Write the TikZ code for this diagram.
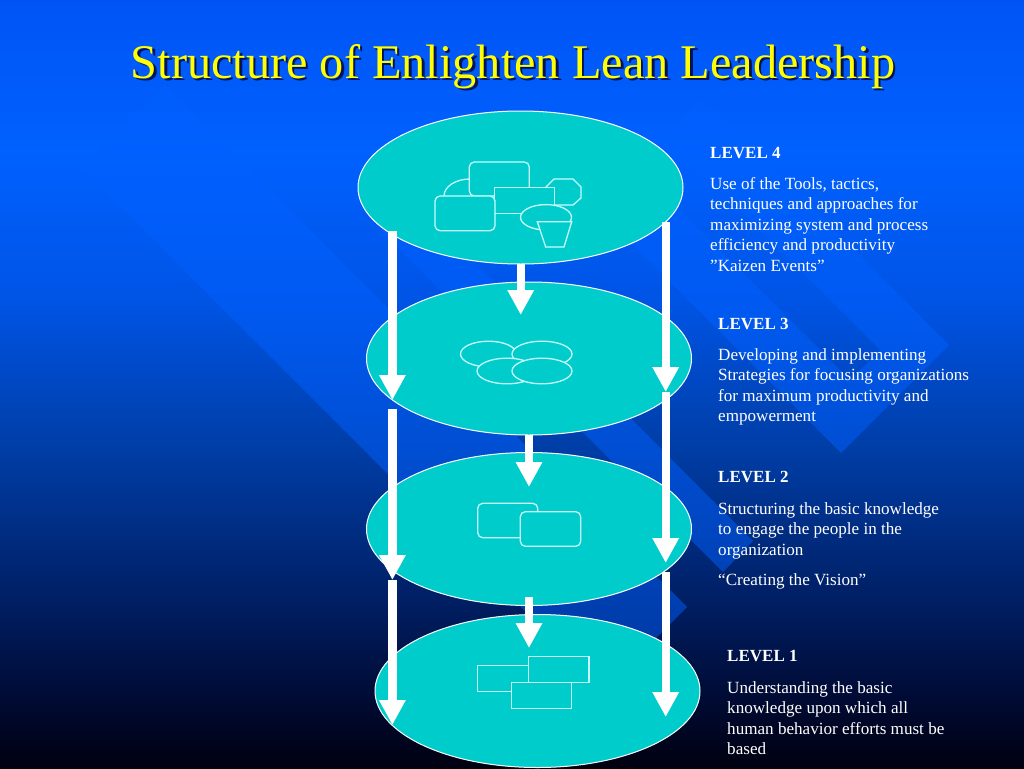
\documentclass[tikz,border=0pt]{standalone}
\usepackage{fontspec}
\setmainfont{Liberation Serif}
\usetikzlibrary{shapes,arrows.meta}
\definecolor{discteal}{RGB}{0,204,204}
\definecolor{iconline}{RGB}{200,252,252}
\definecolor{bandblue}{RGB}{0,96,255}
\definecolor{titleyellow}{RGB}{255,255,0}
\definecolor{titleshade}{RGB}{0,20,90}
\pgfdeclareverticalshading{slideback}{100bp}{
  rgb(0bp)=(0,0,0.06);
  rgb(25bp)=(0,0,0.06);
  rgb(29.4bp)=(0,0.04,0.2);
  rgb(35.9bp)=(0,0.12,0.39);
  rgb(45.7bp)=(0,0.24,0.65);
  rgb(55.5bp)=(0,0.33,0.9);
  rgb(65.2bp)=(0,0.38,1);
  rgb(75bp)=(0,0.33,0.96);
  rgb(100bp)=(0,0.33,0.96)}

\begin{document}
\begin{tikzpicture}[x=1pt,y=-1pt]
    \tikzstyle{band}=[fill=bandblue,opacity=0.5]
    \tikzstyle{level disc}=[ellipse,draw=white,line width=1pt,fill=discteal,minimum width=325pt,minimum height=153pt,inner sep=0pt]
    \tikzstyle{icon line}=[draw=iconline,line width=1.3pt,fill=discteal]
    \tikzstyle{round line}=[icon line,rounded corners=5pt]
    \tikzstyle{level arrow}=[draw=white,line width=8.3pt,-{Triangle[width=25pt,length=25pt]}]
    \tikzstyle{level line}=[anchor=base west,inner sep=0pt,text=white,font=\fontsize{17.1}{17}\selectfont]
    \tikzstyle{level head}=[level line,font=\fontsize{17}{17}\selectfont\bfseries]
    \tikzstyle{title text}=[anchor=base,inner sep=0pt,font=\fontsize{48.3}{48}\selectfont]

    % Draw the slide background and the diagonal bands
    \shade[shading=slideback] (0,0) rectangle (1024,768);
    \fill[band] (594,206) -- (841,453) -- (949,345) -- (702,98) -- (665,135) -- (880,350) -- (850,380) -- (635,165) -- cycle;
    \fill[band] (375,225) -- (723,572) -- (753,541) -- (406,193) -- cycle;
    \fill[band] (82,168) -- (604,690) -- (687,607) -- (165,85) -- cycle;

    % Draw the title
    \node[title text,text=titleshade] (title shadow) at (515.5,80.5) {Structure of Enlighten Lean Leadership};
    \node[title text,text=titleyellow] (title) at (513,78) {Structure of Enlighten Lean Leadership};

    % Draw the level discs
    \foreach \name / \x / \y in {4/520.5/187.5,3/529/358.5,2/529/529,1/537.5/691}
        \node[level disc] (L-\name) at (\x,\y) {};

    % Icons of level 4
    \draw[icon line] (470,196) ellipse [x radius=26,y radius=17];
    \draw[round line] (469.3,162) rectangle (529.3,196);
    \draw[icon line] (554,179) -- (573,179) -- (581,187) -- (581,198) -- (573,205) -- (554,205) -- (546,198) -- (546,187) -- cycle;
    \draw[icon line] (494.7,187.3) rectangle (554.3,213.3);
    \draw[round line] (435,196) rectangle (495,230.7);
    \draw[icon line] (546,217.3) ellipse [x radius=25.5,y radius=12.7];
    \draw[icon line] (537.3,221.7) -- (571.7,221.7) -- (564,247) -- (545.7,247) -- cycle;

    % Icons of level 3
    \foreach \x / \y / \r in {488.5/354/28,542/354/30,507/371/30,542/371/30}
        \draw[icon line] (\x,\y) ellipse [x radius=\r,y radius=12.8];

    % Icons of level 2
    \draw[round line] (477.7,503.3) rectangle (537.7,537.7);
    \draw[round line] (520.3,511.7) rectangle (580.7,546.3);

    % Icons of level 1
    \draw[icon line] (477.3,665.3) rectangle (536.7,691.3);
    \draw[icon line] (528.7,656.7) rectangle (589,682.3);
    \draw[icon line] (511.7,682.3) rectangle (571.7,708.3);

    % Connect the levels with the block arrows
    \foreach \name / \x / \top / \tip in {a/392.4/231/400,b/392.4/409/580,c/392.4/580/725,d/665.7/222/392,e/665.7/392/563,f/665.7/572/717,g/520.7/264/315,h/529/435/487,i/529/597/648}{
        \coordinate (A-\name) at (\x,\top);
        \coordinate (B-\name) at (\x,\tip);
        \draw[level arrow] (A-\name) -- (B-\name);
    }

    % Annotate the levels
    \foreach \name / \x / \y / \word in {4/710/158.5/LEVEL 4,3/718/329/LEVEL 3,2/718/482.5/LEVEL 2,1/727/661.5/LEVEL 1}
        \node[level head] (H-\name) at (\x,\y) {\word};

    \foreach \name / \x / \y / \word in {
        a/710/189/{Use of the Tools, tactics,},
        b/710/209.4/{techniques and approaches for},
        c/710/230/{maximizing system and process},
        d/710/250.6/{efficiency and productivity},
        e/710/271/{”Kaizen Events”},
        f/718/360/{Developing and implementing},
        g/718/380.4/{Strategies for focusing organizations},
        h/718/401/{for maximum productivity and},
        i/718/421.4/{empowerment},
        j/718/514/{Structuring the basic knowledge},
        k/718/534/{to engage the people in the},
        l/718/555/{organization},
        m/718/585/{“Creating the Vision”},
        n/727/693/{Understanding the basic},
        o/727/713/{knowledge upon which all},
        p/727/734/{human behavior efforts must be},
        q/727/754/{based}}
        \node[level line] (T-\name) at (\x,\y) {\word};
\end{tikzpicture}
\end{document}
